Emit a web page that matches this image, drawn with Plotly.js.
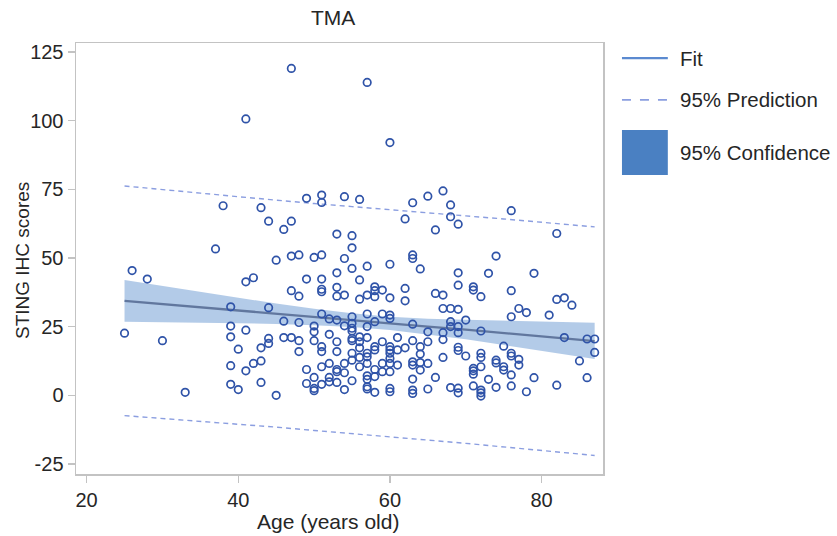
<!DOCTYPE html>
<html>
<head>
<meta charset="utf-8">
<script src="https://cdn.plot.ly/plotly-3.0.1.min.js"></script>
<style>html,body{margin:0;padding:0;background:#fff;}#chart{width:837px;height:536px;}</style>
</head>
<body>
<div id="chart"></div>
<script>
// ---- Data ----
const ages = [
  25, 26, 28, 30, 33, 37, 38,
  39,39,39,39,39,
  40,40,
  41,41,41,41,
  42,42,
  43,43,43,43,
  44,44,44,44,
  45,45,
  46,46,46,
  47,47,47,47,47,
  48,48,48,48,48,
  49,49,49,49,
  50,50,50,50,50,50,50,
  51,51,51,51,51,51,51,51,51,51,51,
  52,52,52,52,52,
  53,53,53,53,53,53,53,53,53,53,
  54,54,54,54,54,54,54,
  55,55,55,55,55,55,55,55,55,55,55,55,
  56,56,56,56,56,56,56,56,
  57,57,57,57,57,57,57,57,57,57,57,57,57,
  58,58,58,58,58,58,58,58,58,
  59,59,59,59,59,
  60,60,60,60,60,60,60,60,60,60,60,60,60,
  61,61,61,
  62,62,62,62,
  63,63,63,63,63,63,63,63,63,63,
  64,64,64,64,64,
  65,65,65,65,65,
  66,66,66,
  67,67,67,67,67,67,
  68,68,68,68,68,68,
  69,69,69,69,69,69,69,69,69,69,
  70,70,
  71,71,71,71,71,71,
  72,72,72,72,72,72,72,72,
  73,73,
  74,74,74,74,
  75,75,75,
  76,76,76,76,76,76,76,
  77,77,77,
  78,78,
  79,79,
  81,
  82,82,82,
  83,83,
  84, 85,
  86,86,
  87,87
];
const scores = [
  22.6, 45.4, 42.3, 19.9, 1.1, 53.3, 69.0,
  32.2, 25.2, 21.3, 10.8, 4.0,
  16.8, 2.1,
  100.6, 41.3, 23.7, 8.9,
  42.8, 11.6,
  68.3, 17.3, 12.5, 4.7,
  63.4, 31.9, 20.7, 18.9,
  49.2, 0.0,
  60.4, 27.0, 21.0,
  119.0, 63.4, 50.7, 38.1, 21.0,
  51.1, 36.1, 26.5, 19.9, 15.9,
  71.7, 42.3, 9.4, 4.3,
  50.2, 25.2, 23.1, 19.9, 6.5, 2.5, 1.7,
  72.9, 70.2, 51.1, 42.3, 38.6, 37.7, 29.6, 17.7, 15.9, 10.4, 4.0,
  27.8, 22.2, 11.6, 6.5, 4.9,
  58.7, 44.6, 39.3, 36.1, 27.4, 19.5, 15.9, 9.4, 8.6, 4.7,
  72.3, 49.8, 36.5, 25.3, 11.6, 8.2, 2.1,
  58.1, 53.7, 46.2, 28.6, 26.2, 24.4, 23.4, 20.7, 19.9, 15.3, 12.8, 5.3,
  71.3, 42.0, 35.0, 21.3, 19.5, 17.3, 13.8, 10.4,
  113.9, 47.0, 36.5, 29.6, 25.0, 21.0, 15.3, 14.0, 11.6, 7.1, 5.8, 3.1, 2.3,
  39.5, 38.1, 35.9, 26.8, 17.7, 16.5, 9.4, 6.8, 1.1,
  38.3, 29.6, 19.5, 11.6, 8.6,
  92.0, 47.7, 35.5, 29.2, 28.0, 17.7, 16.5, 15.3, 13.4, 11.6, 8.6, 2.5, 1.3,
  21.0, 16.5, 11.0,
  64.2, 38.9, 34.4, 17.3,
  70.1, 51.1, 49.8, 25.9, 19.9, 12.2, 11.0, 5.9, 1.9, 0.7,
  46.0, 17.7, 15.0, 11.9, 9.2,
  72.5, 23.1, 19.5, 11.6, 2.3,
  60.2, 37.1, 6.5,
  74.4, 36.5, 31.6, 22.8, 20.3, 13.8,
  69.3, 65.0, 31.6, 26.8, 25.0, 2.8,
  62.3, 44.6, 40.1, 31.3, 25.0, 22.8, 17.5, 16.3, 2.6, 0.9,
  27.4, 14.3,
  39.5, 38.3, 9.8, 8.9, 7.7, 3.4,
  35.9, 23.4, 15.3, 13.8, 10.4, 1.9, 0.9, -0.3,
  44.4, 5.8,
  50.7, 12.8, 11.8, 2.9,
  17.9, 10.4, 9.2,
  67.2, 38.1, 28.6, 15.3, 14.3, 7.4, 3.4,
  31.6, 13.1, 11.0,
  30.1, 1.3,
  44.4, 6.4,
  29.2,
  58.9, 34.9, 3.7,
  35.5, 21.0,
  32.8, 12.5,
  20.5, 6.4,
  20.5, 15.6
];

// Fit, confidence and prediction curves
const fitAges   = [25, 30, 35, 40, 45, 50, 55, 60, 65, 70, 75, 80, 87];
const fitVals   = [34.4, 33.2, 32.1, 30.9, 29.7, 28.5, 27.4, 26.2, 25.0, 23.9, 22.7, 21.5, 19.7];
const confUpper = [42.0, 39.8, 37.7, 35.5, 33.4, 31.5, 29.9, 28.6, 27.9, 27.5, 27.1, 26.9, 26.4];
const confLower = [26.8, 26.6, 26.5, 26.3, 26.0, 25.5, 24.9, 23.8, 22.2, 20.4, 18.3, 16.1, 13.2];
const predUpper = [76.2, 74.8, 73.6, 72.3, 71.0, 69.8, 68.7, 67.5, 66.3, 65.3, 64.2, 63.1, 61.3];
const predLower = [-7.4, -8.4, -9.4, -10.5, -11.6, -12.8, -13.9, -15.1, -16.3, -17.5, -18.8, -20.1, -21.9];

const xTicks = [20, 40, 60, 80];
const yTicks = [-25, 0, 25, 50, 75, 100, 125];
const legendLabels = ['Fit', '95% Prediction', '95% Confidence'];
const xTitle = 'Age (years old)';
const yTitle = 'STING IHC scores';
const chartTitle = 'TMA';

// ---- Styles ----
const FONT = 'Liberation Sans, Arial, Helvetica, sans-serif';
const TXT = '#262626';
const FRAME = '#c3c3c3';

const traces = [
  { x: fitAges, y: confLower, mode: 'lines', line: {width: 0, color: 'rgba(0,0,0,0)'},
    hoverinfo: 'skip', showlegend: false },
  { x: fitAges, y: confUpper, mode: 'lines', line: {width: 0, color: 'rgba(0,0,0,0)'},
    fill: 'tonexty', fillcolor: 'rgba(160,190,226,0.8)', hoverinfo: 'skip', showlegend: false },
  { x: fitAges, y: predUpper, mode: 'lines', line: {color: '#8b9ee0', width: 1.4, dash: '5px,4px'},
    showlegend: false },
  { x: fitAges, y: predLower, mode: 'lines', line: {color: '#8b9ee0', width: 1.4, dash: '5px,4px'},
    showlegend: false },
  { x: fitAges, y: fitVals, mode: 'lines', line: {color: '#61779e', width: 2.3},
    showlegend: false },
  { x: ages, y: scores, mode: 'markers', type: 'scatter',
    marker: {symbol: 'circle-open', size: 7.5, color: '#2f53a8', line: {width: 1.7, color: '#2f53a8'}},
    showlegend: false }
];

// legend drawn as shapes + annotations (paper coordinates)
const shapes = [
  {type: 'line', xref: 'paper', yref: 'paper', x0: 1.036, x1: 1.123, y0: 0.965, y1: 0.965,
   line: {color: '#5b8ad0', width: 2.2}},
  {type: 'line', xref: 'paper', yref: 'paper', x0: 1.036, x1: 1.123, y0: 0.868, y1: 0.868,
   line: {color: '#8b9ee0', width: 1.6, dash: 'dash'}},
  {type: 'rect', xref: 'paper', yref: 'paper', x0: 1.036, x1: 1.123, y0: 0.694, y1: 0.798,
   fillcolor: '#4a80c2', line: {width: 0}}
];
const legY = [0.965, 0.868, 0.746];
const annotations = legendLabels.map((t, i) => ({
  text: t, xref: 'paper', yref: 'paper', x: 1.142, y: legY[i], xanchor: 'left', yanchor: 'middle',
  showarrow: false, font: {family: FONT, size: 20.5, color: TXT}
}));
// axis titles as annotations (the reference centres them slightly left of the plot centre)
annotations.push({
  text: xTitle, xref: 'paper', yref: 'paper', x: 0.479, y: -0.111, xanchor: 'center', yanchor: 'middle',
  showarrow: false, font: {family: FONT, size: 21, color: TXT}
});
annotations.push({
  text: yTitle, xref: 'paper', yref: 'paper', x: -0.1025, y: 0.4965, xanchor: 'center', yanchor: 'middle',
  textangle: -90, showarrow: false, font: {family: FONT, size: 19, color: TXT}
});

const layout = {
  width: 837, height: 536,
  margin: {l: 76, r: 234, t: 43, b: 62},
  paper_bgcolor: '#ffffff', plot_bgcolor: '#ffffff',
  title: {text: chartTitle, x: 0.398, xanchor: 'center', y: 0.968, yanchor: 'middle',
          font: {family: FONT, size: 21, color: TXT}},
  font: {family: FONT, color: TXT},
  xaxis: {
    range: [18.6, 88.1], tickvals: xTicks, ticktext: xTicks.map(String),
    showgrid: false, zeroline: false, showline: true, mirror: true,
    linecolor: FRAME, linewidth: 1.5, ticks: 'outside', ticklen: 7, tickcolor: FRAME, tickwidth: 1.2,
    tickfont: {family: FONT, size: 20, color: TXT}
  },
  yaxis: {
    range: [-28.65, 128.25], tickvals: yTicks, ticktext: yTicks.map(String),
    showgrid: false, zeroline: false, showline: true, mirror: true,
    linecolor: FRAME, linewidth: 1.5, ticks: 'outside', ticklen: 7, tickcolor: FRAME, tickwidth: 1.2,
    tickfont: {family: FONT, size: 20, color: TXT}, ticklabelstandoff: 0
  },
  shapes: shapes,
  annotations: annotations,
  showlegend: false
};

Plotly.newPlot('chart', traces, layout, {displayModeBar: false, staticPlot: true});
</script>
</body>
</html>
